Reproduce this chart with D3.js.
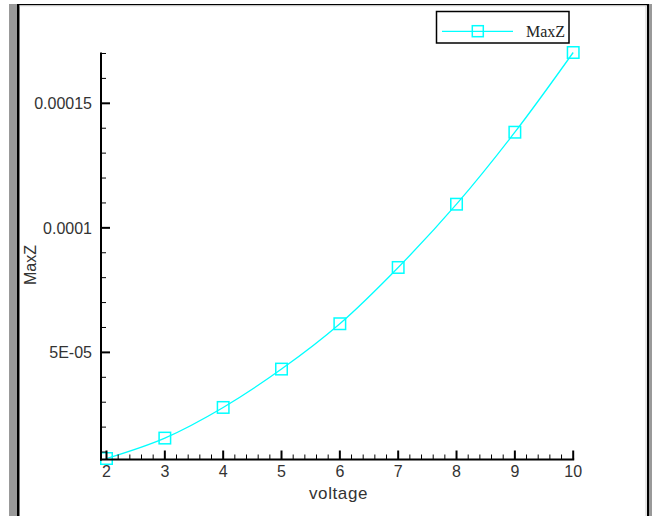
<!DOCTYPE html>
<html>
<head>
<meta charset="utf-8">
<script src="https://cdn.jsdelivr.net/npm/d3@7"></script>
<style>
  html, body { margin: 0; padding: 0; background: #fff; }
  svg { display: block; }
</style>
</head>
<body>
<svg id="chart" width="654" height="516"></svg>
<script>
// ---- data ----
const voltage = [2, 3, 4, 5, 6, 7, 8, 9, 10];
const maxZ = [7.4e-6, 1.56e-5, 2.79e-5, 4.33e-5, 6.15e-5, 8.41e-5, 1.095e-4, 1.384e-4, 1.704e-4];
const xTickValues = [2, 3, 4, 5, 6, 7, 8, 9, 10];
const yTickValues = [5e-5, 1e-4, 1.5e-4];
const yTickLabels = ["5E-05", "0.0001", "0.00015"];
const seriesName = "MaxZ";
const xTitle = "voltage";
const yTitle = "MaxZ";

const svg = d3.select("#chart");
const cyan = "#00ffff";

// ---- frame ----
svg.append("rect").attr("x", 9).attr("y", 4).attr("width", 8).attr("height", 520).attr("fill", "#999");
svg.append("rect").attr("x", 649).attr("y", 4).attr("width", 3).attr("height", 520).attr("fill", "#999");
svg.append("rect").attr("x", 17).attr("y", 4).attr("width", 2.5).attr("height", 520).attr("fill", "#000");
svg.append("rect").attr("x", 647).attr("y", 4).attr("width", 2).attr("height", 520).attr("fill", "#000");
svg.append("rect").attr("x", 17).attr("y", 4).attr("width", 632).attr("height", 1.3).attr("fill", "#000");
svg.append("line").attr("x1", 19.5).attr("x2", 646).attr("y1", 5.8).attr("y2", 5.8).attr("stroke", "#ccc").attr("stroke-width", 1);
svg.append("line").attr("x1", 646).attr("x2", 646).attr("y1", 5.8).attr("y2", 516).attr("stroke", "#ccc").attr("stroke-width", 1);

// ---- scales ----
const x = d3.scaleLinear().domain(d3.extent(voltage)).range([106.5, 573.2]);
const y = d3.scaleLinear().domain(d3.extent(maxZ)).range([458.5, 52.5]);

const axisX = 101;   // y-axis position
const axisY = 459.5; // x-axis position

// ---- data line + markers ----
const pts = voltage.map((v, i) => [x(v), y(maxZ[i])]);
const lineGen = d3.line().x(d => d[0]).y(d => d[1]).curve(d3.curveCatmullRom.alpha(0.5));
svg.append("path").attr("d", lineGen(pts)).attr("fill", "none")
  .attr("stroke", cyan).attr("stroke-width", 1.3);
const ms = 11.5;
svg.append("g").selectAll("rect").data(pts).join("rect")
  .attr("x", d => d[0] - ms / 2).attr("y", d => d[1] - ms / 2)
  .attr("width", ms).attr("height", ms)
  .attr("fill", "none").attr("stroke", cyan).attr("stroke-width", 1.5);

// ---- axes ----
const gAx = svg.append("g");
gAx.append("line").attr("x1", axisX).attr("x2", axisX).attr("y1", y.range()[1]).attr("y2", axisY + 1)
  .attr("stroke", "#000").attr("stroke-width", 2);
gAx.append("line").attr("x1", axisX - 1).attr("x2", x.range()[1] + 1).attr("y1", axisY).attr("y2", axisY)
  .attr("stroke", "#000").attr("stroke-width", 2);

const isMajorY = d => Math.abs(d / 5e-5 - Math.round(d / 5e-5)) < 1e-6;
const yMinor = d3.range(1, 18).map(k => k * 1e-5);
gAx.selectAll(".ymin").data(yMinor).join("line")
  .attr("x1", axisX).attr("x2", d => axisX + (isMajorY(d) ? 9 : 5))
  .attr("y1", d => y(d)).attr("y2", d => y(d))
  .attr("stroke", "#000")
  .attr("stroke-width", d => (isMajorY(d) ? 2 : 1));

const isMajorX = d => Math.abs(d - Math.round(d)) < 1e-6;
const xMinor = d3.range(0, 41).map(k => 2 + k * 0.2);
gAx.selectAll(".xmin").data(xMinor).join("line")
  .attr("x1", d => x(d)).attr("x2", d => x(d))
  .attr("y1", axisY).attr("y2", d => axisY - (isMajorX(d) ? 9 : 5))
  .attr("stroke", "#000")
  .attr("stroke-width", d => (isMajorX(d) ? 2 : 1));

const font = "'Liberation Sans', Arial, sans-serif";
gAx.selectAll(".xl").data(xTickValues).join("text")
  .attr("x", d => x(d)).attr("y", 477)
  .attr("text-anchor", "middle").attr("font-family", font).attr("font-size", 16)
  .attr("fill", "#333").text(d => d);
gAx.selectAll(".yl").data(yTickValues).join("text")
  .attr("x", 92).attr("y", d => y(d) + 6)
  .attr("text-anchor", "end").attr("font-family", font).attr("font-size", 16)
  .attr("fill", "#333").text((d, i) => yTickLabels[i]);

// axis titles
svg.append("text").attr("x", 338.5).attr("y", 499).attr("text-anchor", "middle")
  .attr("font-family", font).attr("font-size", 17).attr("letter-spacing", 0.6)
  .attr("fill", "#333").text(xTitle);
svg.append("text").attr("transform", "translate(36,265) rotate(-90)").attr("text-anchor", "middle")
  .attr("font-family", font).attr("font-size", 16)
  .attr("fill", "#333").text(yTitle);

// ---- legend ----
const lg = svg.append("g");
lg.append("rect").attr("x", 436.5).attr("y", 11.5).attr("width", 132.5).attr("height", 31.5)
  .attr("fill", "#fff").attr("stroke", "#000").attr("stroke-width", 1.5);
lg.append("line").attr("x1", 442).attr("x2", 513).attr("y1", 31.3).attr("y2", 31.3)
  .attr("stroke", cyan).attr("stroke-width", 1.3);
lg.append("rect").attr("x", 477.8 - 5.5).attr("y", 31.2 - 5.5).attr("width", 11).attr("height", 11)
  .attr("fill", "none").attr("stroke", cyan).attr("stroke-width", 1.5);
lg.append("text").attr("x", 526).attr("y", 37).attr("font-family", "'Liberation Serif', 'Times New Roman', serif")
  .attr("font-size", 16).attr("fill", "#222").text(seriesName);
</script>
</body>
</html>
